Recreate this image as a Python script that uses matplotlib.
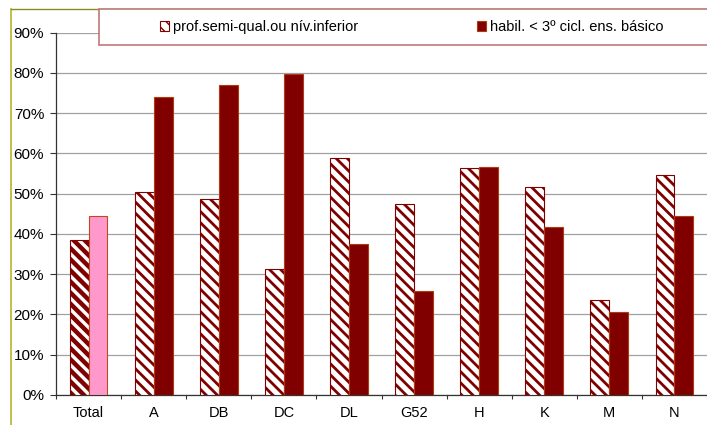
import numpy as np
import matplotlib.pyplot as plt
from matplotlib.patches import Rectangle, Patch
from matplotlib.lines import Line2D

plt.rcParams['font.family'] = ['Liberation Sans', 'DejaVu Sans']

categories = ['Total', 'A', 'DB', 'DC', 'DL', 'G52', 'H', 'K', 'M', 'N']
semi_qual = [38.6, 50.5, 48.6, 31.4, 58.8, 47.4, 56.3, 51.6, 23.5, 54.5]
habil = [44.4, 74.0, 76.9, 79.6, 37.4, 25.9, 56.5, 41.6, 20.6, 44.5]
legend_labels = ['prof.semi-qual.ou nív.inferior', 'habil. < 3º cicl. ens. básico']

dark = '#800000'
fs = 10.5

W, H = 707, 425
fig = plt.figure(figsize=(W / 100, H / 100), dpi=100)

# plot area: axis at x=56, categories 66.3 px wide, 0% at y=395, 90% at y=32.5
left = 56 / W
bottom = 1 - 395 / H
top = 1 - 32.5 / H
ax = fig.add_axes([left, bottom, 1 - left, top - bottom])

x = np.arange(len(categories))
w = 0.29

b1 = ax.bar(x - w / 2, semi_qual, w, color='white', edgecolor=dark,
            hatch='\\' * 3, linewidth=0.8, zorder=3)
b2 = ax.bar(x + w / 2, habil, w, color=dark, edgecolor='#b03a10',
            linewidth=0.8, zorder=3)

# first group is formatted differently in the original
b2[0].set_facecolor('#ff99cc')
b2[0].set_edgecolor('#c04a20')
for i, p in enumerate(b1):
    if hasattr(p, 'set_hatch_linewidth'):
        p.set_hatch_linewidth(3.2 if i == 0 else 2.0)

ax.set_xlim(-0.5, -0.5 + (W - 56) / 66.3)
ax.set_ylim(0, 0.9 * 100)
ax.set_yticks(np.arange(0, 91, 10))
ax.set_yticklabels([f'{v}%' for v in range(0, 91, 10)], fontsize=fs + 0.5)

ax.set_xticks(np.arange(len(categories) + 1) - 0.5)
ax.set_xticklabels([])
ax.set_xticks(x, minor=True)
ax.set_xticklabels(categories, minor=True, fontsize=fs)
ax.tick_params(axis='x', which='major', direction='out', length=3, width=0.8, color='#333333')
ax.tick_params(axis='x', which='minor', length=0, pad=8)
ax.tick_params(axis='y', direction='out', length=4.5, width=0.8, color='#333333', pad=4)

ax.yaxis.grid(True, color='#a0a0a0', linewidth=0.9, zorder=0)
ax.set_axisbelow(True)
for s in ['top', 'right']:
    ax.spines[s].set_visible(False)
for s in ['left', 'bottom']:
    ax.spines[s].set_color('#333333')
    ax.spines[s].set_linewidth(0.9)

# outer frame lines
fig.add_artist(Line2D([10.5 / W, 10.5 / W], [0, 1 - 9 / H], color='#b5b530', linewidth=1.2))
fig.add_artist(Line2D([10.5 / W, 1], [1 - 9 / H, 1 - 9 / H], color='#8a8a20', linewidth=1.0))

# legend box
fig.add_artist(Rectangle((99 / W, 1 - 44.5 / H), 1, 35 / H, transform=fig.transFigure,
                         facecolor='white', edgecolor='#c07878', linewidth=1.2, zorder=5))

h1 = Patch(facecolor='white', edgecolor=dark, hatch='\\' * 3, linewidth=0.8)
h2 = Patch(facecolor=dark, edgecolor='#b03a10', linewidth=0.8)
leg = fig.legend([h1, h2], legend_labels, ncol=2, loc='center left',
                 bbox_to_anchor=(160 / W, 1 - 27 / H), frameon=False,
                 fontsize=fs, handlelength=0.62, handleheight=0.62,
                 handletextpad=0.3, columnspacing=8.1, borderpad=0, borderaxespad=0)
leg.set_zorder(6)

fig.savefig('out.png', dpi=100)
